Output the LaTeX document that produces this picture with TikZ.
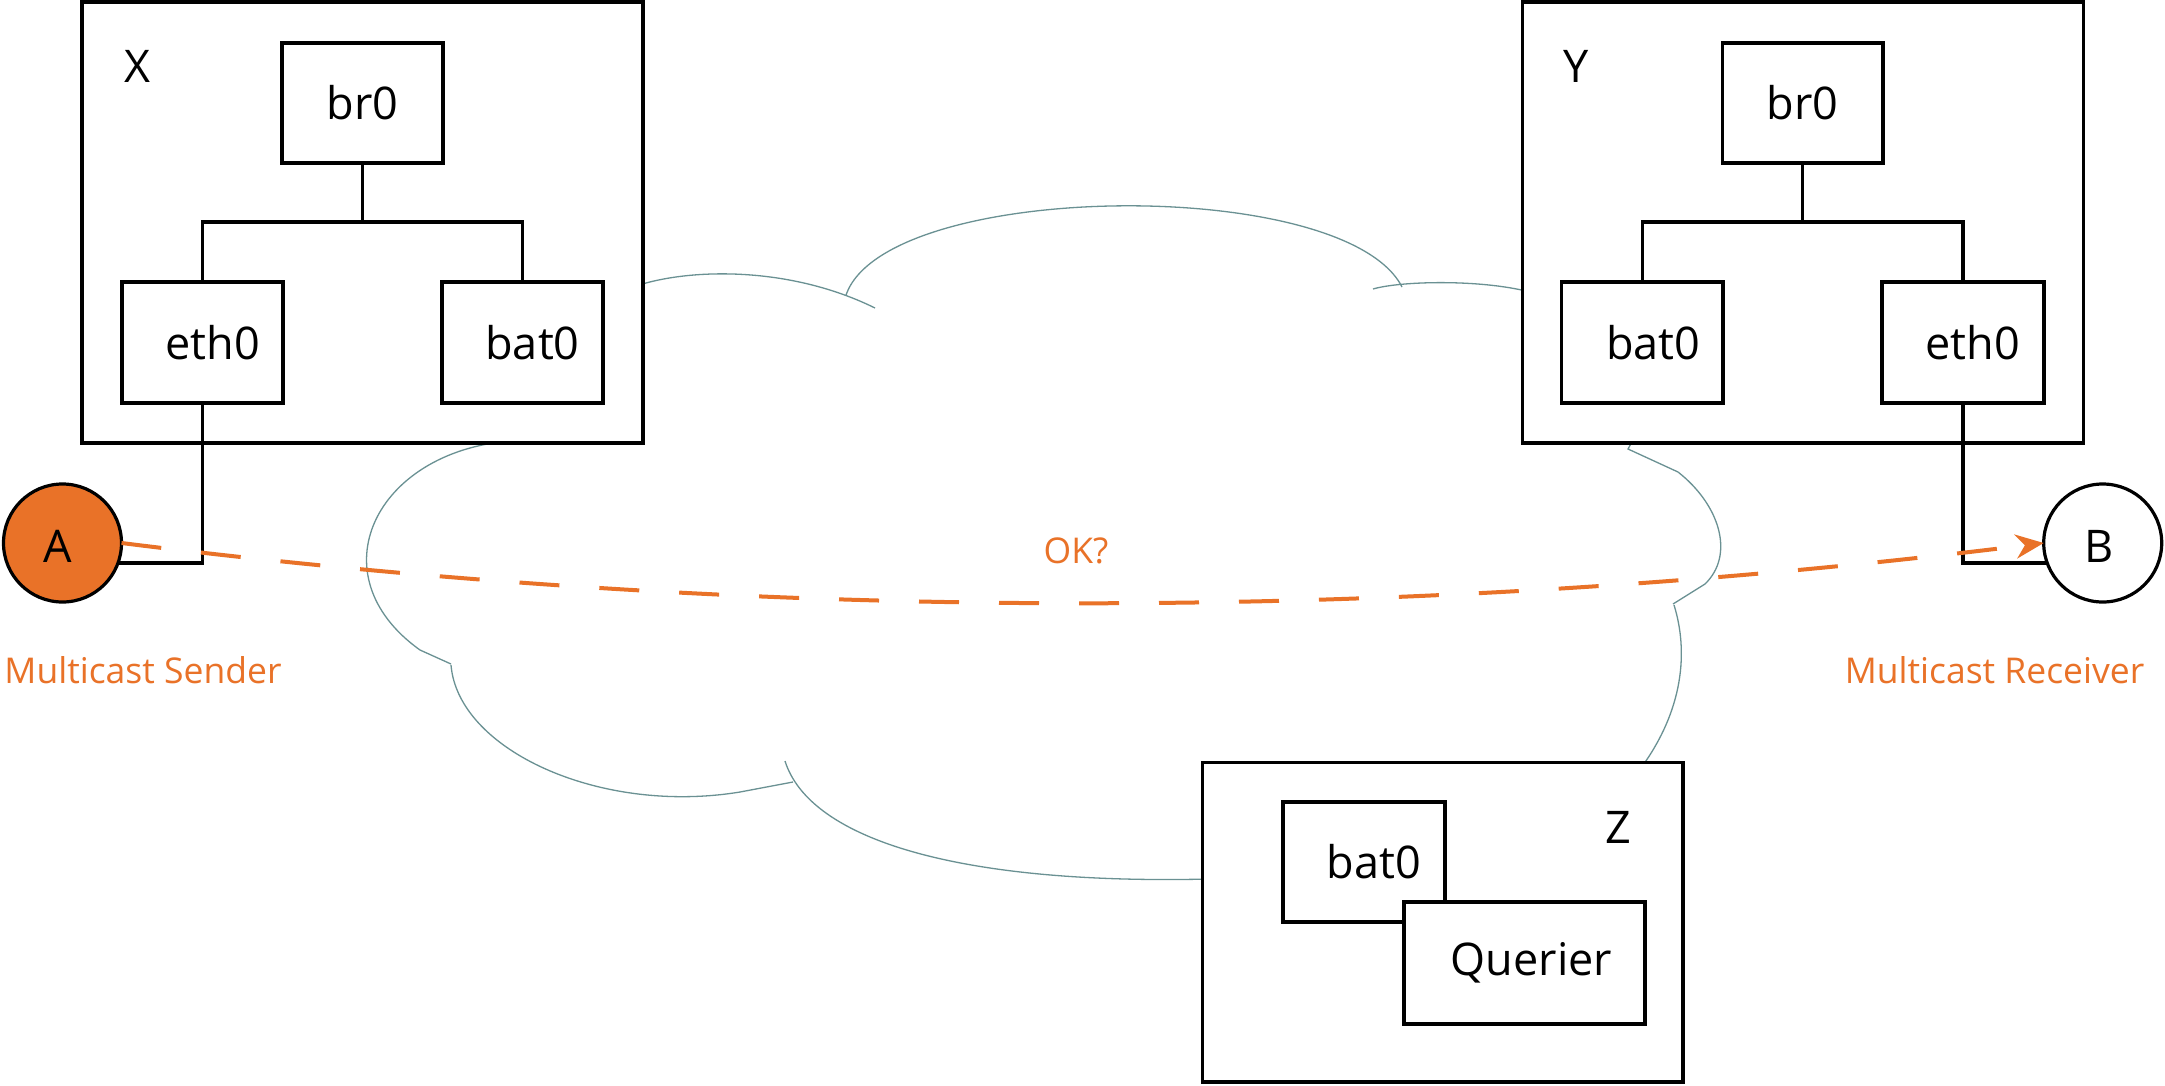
\documentclass[tikz,border=0pt]{standalone}
\usepackage{fontspec}
\setmainfont{Open Sans}
\usetikzlibrary{arrows.meta}
\definecolor{orng}{HTML}{E97228}
\definecolor{cloudc}{HTML}{6A9193}
\tikzset{
  boxnode/.style={draw, line width=3.5pt, fill=white, inner sep=0pt, outer sep=0pt,
    font=\fontsize{45}{54}\selectfont},
  wire/.style={draw, line width=3.5pt},
  cloudline/.style={draw=cloudc, line width=1.3pt},
  hostlabel/.style={anchor=base, inner sep=0pt, font=\fontsize{45}{54}\selectfont},
  orlabel/.style={anchor=base, inner sep=0pt, text=orng, font=\fontsize{35.5}{42}\selectfont},
  endpoint/.style={circle, draw, line width=3.2pt, minimum size=118pt, inner sep=0pt, outer sep=0pt},
  flow/.style={draw=orng, line width=4pt, dash pattern=on 40pt off 40pt}
}
\begin{document}
\begin{tikzpicture}[x=1pt,y=-1pt]
\useasboundingbox (0,0) rectangle (2165,1085);
\fill[white] (0,0) rectangle (2165,1085);

% cloud (drawn behind the white host boxes)
\draw[cloudline] (636,286) .. controls (690,268) and (790,266) .. (875,308);
\draw[cloudline] (846,295) .. controls (886,180) and (1345,175) .. (1402,287);
\draw[cloudline] (1373,289) .. controls (1400,281) and (1480,279) .. (1530,292);
\draw[cloudline] (1634,438) -- (1628,449) -- (1678,472) .. controls (1720,505) and (1735,555) .. (1705,584) -- (1673,604);
\draw[cloudline] (1674,605) .. controls (1688,650) and (1685,710) .. (1638,772);
\draw[cloudline] (785,761) .. controls (810,840) and (960,885) .. (1210,879);
\draw[cloudline] (451,665) .. controls (458,750) and (600,815) .. (740,792) -- (793,782);
\draw[cloudline] (510,441) .. controls (375,452) and (315,575) .. (420,650) -- (451,664);

% host X
\node[boxnode, minimum width=561pt, minimum height=441pt] (X) at (362.5,222.5) {};
\node[hostlabel] (Xl) at (137,82.6) {X};
\node[boxnode, minimum width=161pt, minimum height=120pt] (brX) at (362.5,103) {br0};
\node[boxnode, minimum width=161pt, minimum height=121pt] (ethX) at (202.5,342.5) {\hspace*{20pt}eth0};
\node[boxnode, minimum width=161pt, minimum height=121pt] (batX) at (522.5,342.5) {\hspace*{20pt}bat0};
\draw[wire] (brX.south) -- ++(0,59) coordinate (jX);
\draw[wire] (ethX.north) |- (jX) -| (batX.north);

% host Y
\node[boxnode, minimum width=561pt, minimum height=441pt] (Y) at (1803,222.5) {};
\node[hostlabel] (Yl) at (1576,82.6) {Y};
\node[boxnode, minimum width=160.5pt, minimum height=120pt] (brY) at (1802.5,103) {br0};
\node[boxnode, minimum width=161.4pt, minimum height=121pt] (batY) at (1642.4,342.5) {\hspace*{22pt}bat0};
\node[boxnode, minimum width=162pt, minimum height=121pt] (ethY) at (1962.8,342.5) {\hspace*{20pt}eth0};
\draw[wire] (brY.south) -- ++(0,59) coordinate (jY);
\draw[wire] (batY.north) |- (jY) -| (ethY.north);

% host Z
\node[boxnode, minimum width=480.4pt, minimum height=319.5pt] (Z) at (1442.8,922.3) {};
\node[hostlabel] (Zl) at (1618,843.3) {Z};
\node[boxnode, minimum width=162pt, minimum height=120pt] (batZ) at (1364,862) {\hspace*{20pt}bat0};
\node[boxnode, minimum width=241pt, minimum height=122pt] (Q) at (1524.5,963) {\hspace*{14pt}Querier};

% end points
\node[endpoint, fill=orng] (A) at (62.5,543) {};
\node[hostlabel] (Al) at (58,562.5) {A};
\node[endpoint, fill=white] (B) at (2102.7,543) {};
\node[hostlabel] (Bl) at (2099,562.5) {B};
\draw[wire] (ethX.south) |- (A.-20);
\draw[wire] (ethY.south) |- (B.200);

\node[orlabel] (sender) at (143,683) {Multicast Sender};
\node[orlabel] (receiver) at (1994.5,683) {Multicast Receiver};

% multicast flow
\draw[flow, -{Stealth[length=28pt,width=24pt,inset=9pt]}] (A.east) .. controls (760,623) and (1400,623) .. (B.west);
\node[orlabel] (ok) at (1076,563.4) {OK?};
\end{tikzpicture}
\end{document}
